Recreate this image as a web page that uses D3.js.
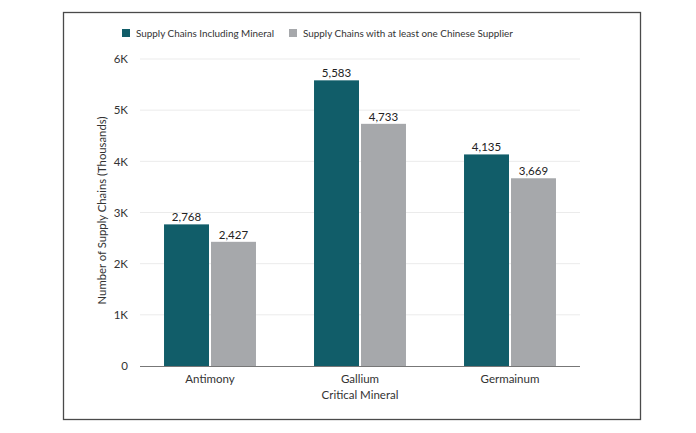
<!DOCTYPE html>
<html>
<head>
<meta charset="utf-8">
<script src="https://cdn.jsdelivr.net/npm/d3@7"></script>
<style>
  body { margin: 0; background: #fff; }
  svg { display: block; font-family: Lato, "Open Sans", sans-serif; }
</style>
</head>
<body>
<div class="viz"></div>
<script>
// data
const minerals = ['Antimony', 'Gallium', 'Germainum']
const seriesNames = ['Supply Chains Including Mineral', 'Supply Chains with at least one Chinese Supplier']
const includingMineral = [2768, 5583, 4135]
const chineseSupplier = [2427, 4733, 3669]
const yTicks = [0, 1000, 2000, 3000, 4000, 5000, 6000]
const yTickLabels = ['0', '1K', '2K', '3K', '4K', '5K', '6K']

const colors = ['#115d69', '#a6a8ab']
const width = 696, height = 433

const svg = d3.select('.viz')
  .append('svg')
    .attr('width', width)
    .attr('height', height)

// outer frame
svg.append('rect')
  .attr('x', 63.5).attr('y', 12.5)
  .attr('width', 577).attr('height', 407)
  .attr('fill', 'none')
  .attr('stroke', '#4a4a4a')
  .attr('stroke-width', 1.3)

const y = d3.scaleLinear().domain([0, 6000]).range([366, 59])
const x0 = d3.scaleBand().domain(minerals).range([135, 585])
  .paddingInner(0.387).paddingOuter(0.1935)
const x1 = d3.scaleBand().domain(seriesNames).range([0, x0.bandwidth()]).paddingInner(0.0426)

// gridlines
svg.append('g')
  .selectAll('line')
  .data(yTicks.slice(1)).enter().append('line')
    .attr('x1', 140).attr('x2', 580)
    .attr('y1', d => y(d)).attr('y2', d => y(d))
    .attr('stroke', '#ebebeb')
    .attr('stroke-width', 1)

// y axis labels
const yAxis = svg.append('g')
  .attr('transform', 'translate(140,0)')
  .call(d3.axisLeft(y).tickValues(yTicks).tickFormat((d, i) => yTickLabels[i]).tickSize(0).tickPadding(12))
yAxis.select('.domain').remove()
yAxis.selectAll('text')
  .attr('font-size', 11.5)
  .attr('fill', '#333')
  .attr('font-family', 'Lato, sans-serif')

svg.append('text')
  .attr('transform', `translate(106,${(y(0) + y(6000)) / 2 - 2}) rotate(-90)`)
  .attr('text-anchor', 'middle')
  .attr('font-size', 11.3)
  .attr('fill', '#333')
  .text('Number of Supply Chains (Thousands)')

// bars
const rows = minerals.map((m, i) => ({
  mineral: m,
  values: [includingMineral[i], chineseSupplier[i]].map((v, j) => ({ series: seriesNames[j], value: v, color: colors[j] }))
}))

const groups = svg.append('g')
  .selectAll('g')
  .data(rows).enter().append('g')
    .attr('transform', d => `translate(${x0(d.mineral)},0)`)

groups.selectAll('rect')
  .data(d => d.values).enter().append('rect')
    .attr('x', d => x1(d.series))
    .attr('y', d => y(d.value))
    .attr('width', x1.bandwidth())
    .attr('height', d => y(0) - y(d.value))
    .attr('fill', d => d.color)

groups.selectAll('text')
  .data(d => d.values).enter().append('text')
    .attr('x', d => x1(d.series) + x1.bandwidth() / 2)
    .attr('y', d => y(d.value) - 3)
    .attr('text-anchor', 'middle')
    .attr('font-size', 11.5)
    .attr('fill', '#222')
    .text(d => d3.format(',')(d.value))

// x axis
const xAxis = svg.append('g')
  .attr('transform', `translate(0,${y(0)})`)
  .call(d3.axisBottom(x0).tickSize(0).tickPadding(9))
xAxis.select('.domain')
  .attr('d', 'M140,0.5H580')
  .attr('stroke', '#777')
xAxis.selectAll('text')
  .attr('font-size', 11.5)
  .attr('fill', '#333')
  .attr('font-family', 'Lato, sans-serif')

svg.append('text')
  .attr('x', x0('Gallium') + x0.bandwidth() / 2)
  .attr('y', 399)
  .attr('text-anchor', 'middle')
  .attr('font-size', 11.5)
  .attr('fill', '#333')
  .text('Critical Mineral')

// legend
const legendX = [122, 289]
const legend = svg.append('g')
  .selectAll('g')
  .data(seriesNames).enter().append('g')
    .attr('transform', (d, i) => `translate(${legendX[i]},29)`)
legend.append('rect')
  .attr('width', 8).attr('height', 8)
  .attr('fill', (d, i) => colors[i])
legend.append('text')
  .attr('x', 14).attr('y', 8)
  .attr('font-size', 9.9)
  .attr('fill', '#333')
  .text(d => d)
</script>
</body>
</html>
